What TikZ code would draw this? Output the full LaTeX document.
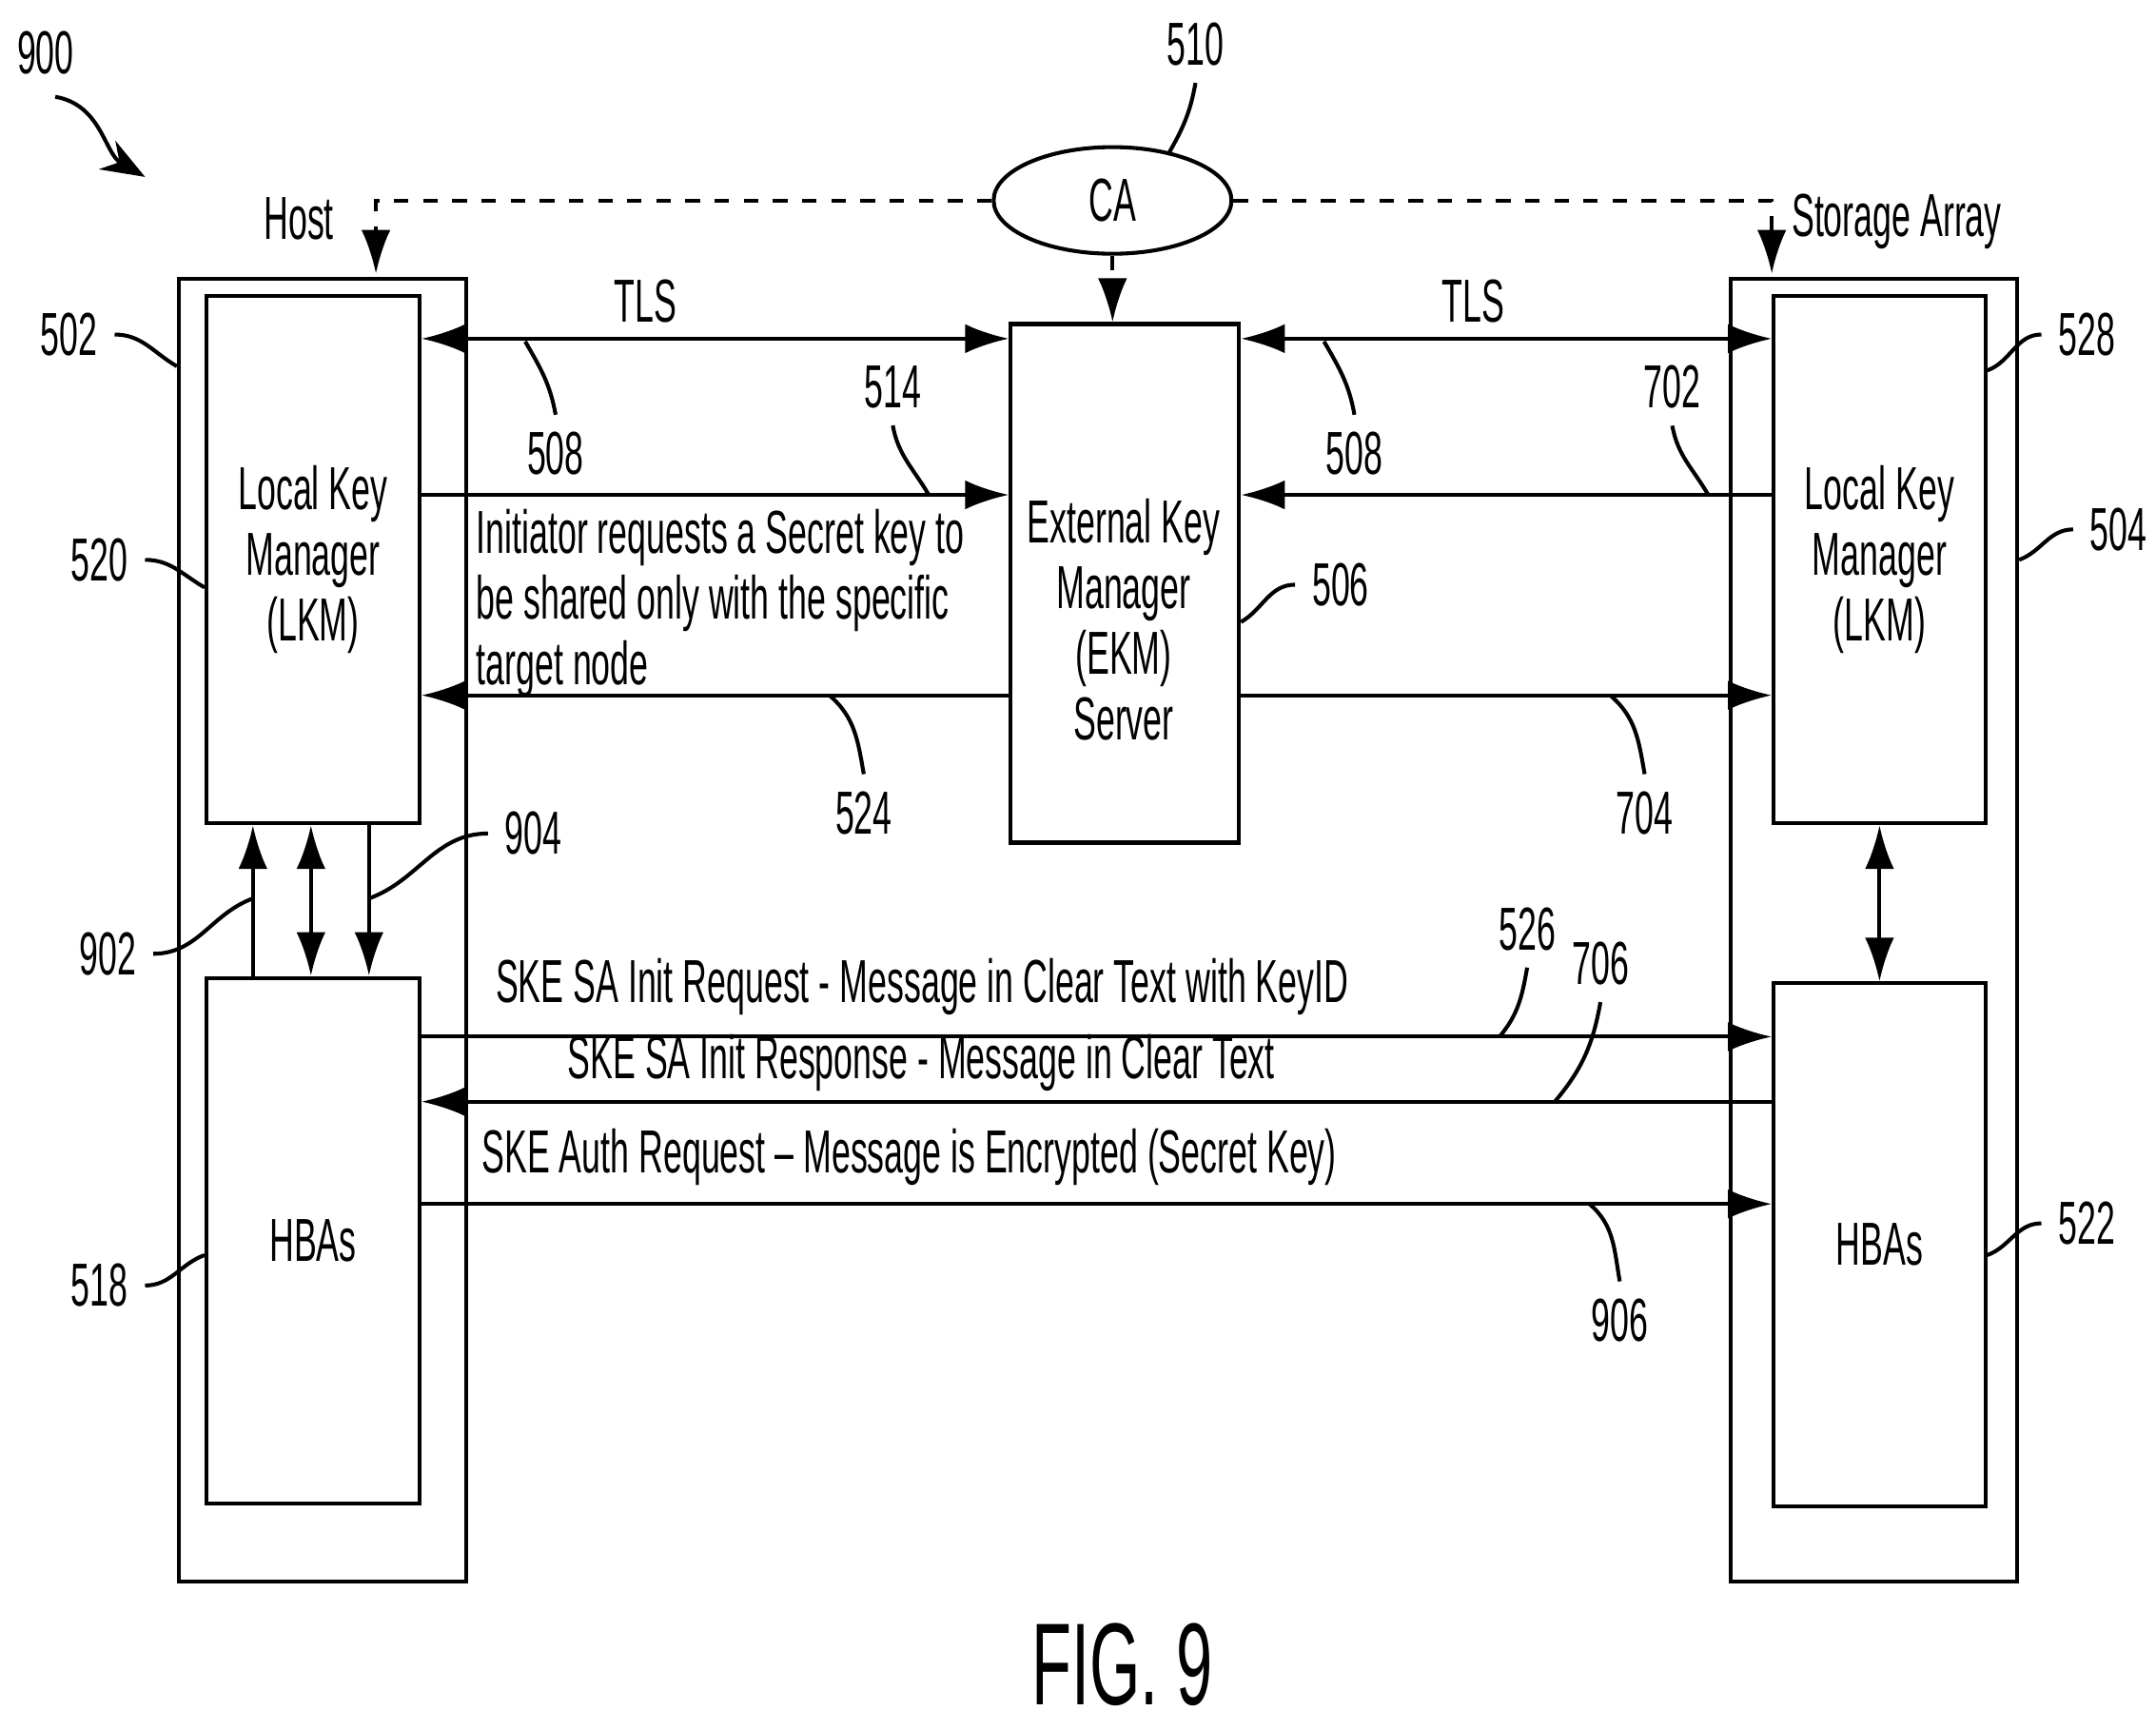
\documentclass[tikz,border=0pt]{standalone}
\usepackage{fontspec}
\setmainfont{Liberation Sans}[FakeStretch=0.56]
\usetikzlibrary{arrows.meta,positioning,shapes.geometric}
\tikzset{
  box/.style={draw, thick, anchor=north west, inner sep=0pt},
  msg/.style={thick, -{Latex[length=9pt,width=6pt]}},
  dmsg/.style={thick, {Latex[length=9pt,width=6pt]}-{Latex[length=9pt,width=6pt]}},
  ca/.style={thick, dashed, -{Latex[length=9pt,width=6pt]}},
  lead/.style={thick}
}
\begin{document}
\begin{tikzpicture}[x=0.01cm, y=-0.01cm, every node/.style={font=\fontsize{12.5}{13.5}\selectfont}]
  \useasboundingbox (0,0) rectangle (1560,1251);
  % boxes
  \node[box, minimum width=2.08cm, minimum height=9.42cm] (host) at (128,200) {};
  \node[box, minimum width=1.54cm, minimum height=3.81cm, align=center] (lkmh) at (148,213) {Local Key\\Manager\\(LKM)};
  \node[box, minimum width=1.54cm, minimum height=3.80cm] (hbah) at (148,706) {HBAs};
  \node[box, minimum width=2.07cm, minimum height=9.42cm] (array) at (1251,200) {};
  \node[box, minimum width=1.53cm, minimum height=3.81cm, align=center] (lkms) at (1282,213) {Local Key\\Manager\\(LKM)};
  \node[box, minimum width=1.53cm, minimum height=3.78cm] (hbas) at (1282,710) {HBAs};
  \node[box, minimum width=1.65cm, minimum height=3.75cm] (ekm) at (730,233) {};
  \node[align=center] at (813,448) {External Key\\Manager\\(EKM)\\Server};
  \node[draw, thick, ellipse, minimum width=1.72cm, minimum height=0.70cm] (ca) at (805,145) {CA};

  % CA distribution
  \draw[ca] (ca.west) -- (272,145) -- (272,198);
  \draw[ca] (ca.east) -- (1282,145) -- (1282,198);
  \draw[ca] (ca.south) -- (ekm.north -| ca.south);
  \node[anchor=east] at (254,158) {Host};
  \node[anchor=west] at (1284,160) {Storage Array};

  % key manager links
  \draw[dmsg] (lkmh.east |- 0,245) -- (ekm.west |- 0,245);
  \draw[dmsg] (ekm.east |- 0,245) -- (lkms.west |- 0,245);
  \node at (467,218) {TLS};
  \node at (1066,218) {TLS};
  \draw[msg] (lkmh.east |- 0,358) -- (ekm.west |- 0,358);
  \draw[msg] (lkms.west |- 0,358) -- (ekm.east |- 0,358);
  \draw[msg] (ekm.west |- 0,503) -- (lkmh.east |- 0,503);
  \draw[msg] (ekm.east |- 0,503) -- (lkms.west |- 0,503);
  \node[anchor=north west, align=left, inner sep=0pt] at (344,368) {Initiator requests a Secret key to\\be shared only with the specific\\target node};

  % LKM to HBA
  \draw[msg] (hbah.north -| 183,0) -- (lkmh.south -| 183,0);
  \draw[dmsg] (hbah.north -| 225,0) -- (lkmh.south -| 225,0);
  \draw[msg] (lkmh.south -| 267,0) -- (hbah.north -| 267,0);
  \draw[dmsg] (lkms.south) -- (hbas.north);

  % SKE exchange
  \draw[msg] (hbah.east |- 0,750) -- (hbas.west |- 0,750);
  \draw[msg] (hbas.west |- 0,797) -- (hbah.east |- 0,797);
  \draw[msg] (hbah.east |- 0,871) -- (hbas.west |- 0,871);
  \node[anchor=south west, inner sep=0pt] at (358,735) {SKE SA Init Request - Message in Clear Text with KeyID};
  \node[anchor=south west, inner sep=0pt] at (410,790) {SKE SA Init Response - Message in Clear Text};
  \node[anchor=south west, inner sep=0pt] at (348,858) {SKE Auth Request -- Message is Encrypted (Secret Key)};

  % reference numerals
  \node (n900) at (33,38) {900};
  \draw[lead, -{Stealth[length=9pt]}] (40,70) to[out=-10, in=150] (105,128);
  \node (n510) at (865,32) {510};
  \draw[lead] (n510.south) to[out=-100, in=60] (845,112);
  \node (n502) at (50,242) {502};
  \draw[lead] (n502.east) to[out=0, in=150] (host.west |- 0,265);
  \node (n520) at (72,405) {520};
  \draw[lead] (n520.east) to[out=0, in=150] (lkmh.west |- 0,425);
  \node (n518) at (72,930) {518};
  \draw[lead] (n518.east) to[out=0, in=200] (hbah.west |- 0,908);
  \node (n902) at (78,690) {902};
  \draw[lead] (n902.east) to[out=0, in=200] (183,650);
  \node (n904) at (386,603) {904};
  \draw[lead] (n904.west) to[out=180, in=20] (267,650);
  \node (n508a) at (402,328) {508};
  \draw[lead] (n508a.north) to[out=100, in=-60] (380,247);
  \node (n514) at (646,280) {514};
  \draw[lead] (n514.south) to[out=-80, in=120] (672,358);
  \node (n508b) at (980,328) {508};
  \draw[lead] (n508b.north) to[out=100, in=-60] (958,247);
  \node (n702) at (1210,280) {702};
  \draw[lead] (n702.south) to[out=-80, in=120] (1236,358);
  \node (n506) at (970,423) {506};
  \draw[lead] (n506.west) to[out=180, in=30] (ekm.east |- 0,450);
  \node (n524) at (625,588) {524};
  \draw[lead] (n524.north) to[out=100, in=-40] (600,503);
  \node (n704) at (1190,588) {704};
  \draw[lead] (n704.north) to[out=100, in=-40] (1165,503);
  \node (n528) at (1510,242) {528};
  \draw[lead] (n528.west) to[out=180, in=20] (lkms.east |- 0,268);
  \node (n504) at (1533,383) {504};
  \draw[lead] (n504.west) to[out=180, in=20] (array.east |- 0,405);
  \node (n522) at (1510,885) {522};
  \draw[lead] (n522.west) to[out=180, in=20] (hbas.east |- 0,908);
  \node (n526) at (1105,672) {526};
  \draw[lead] (n526.south) to[out=-100, in=50] (1085,750);
  \node (n706) at (1158,697) {706};
  \draw[lead] (n706.south) to[out=-100, in=50] (1125,797);
  \node (n906) at (1172,955) {906};
  \draw[lead] (n906.north) to[out=100, in=-40] (1150,871);
  \node[font=\fontsize{24}{28}\selectfont] (fig) at (812,1204) {FIG. 9};
\end{tikzpicture}
\end{document}
